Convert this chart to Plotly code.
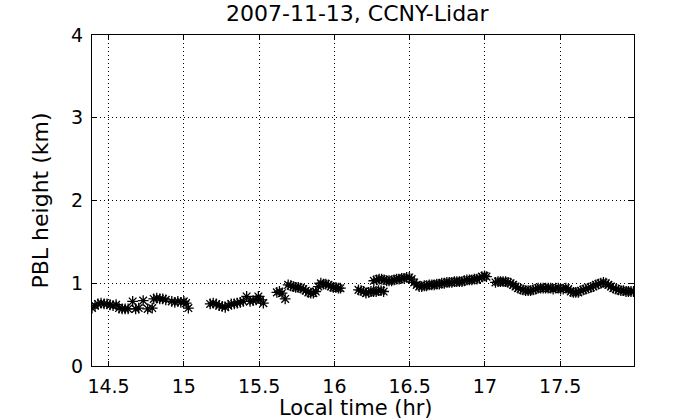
import plotly.graph_objects as go

# Local time (hr) and PBL height (km)
time_hr = [
    14.390, 14.410, 14.430, 14.450, 14.470, 14.490, 14.510, 14.530, 14.550, 14.570,
    14.590, 14.610, 14.630, 14.660, 14.680, 14.700, 14.730, 14.760, 14.790, 14.800,
    14.820, 14.840, 14.860, 14.880, 14.920, 14.940, 14.960, 14.980, 15.000, 15.015,
    15.030,
    15.175, 15.195, 15.215, 15.235, 15.255, 15.275, 15.295, 15.315, 15.335, 15.355,
    15.375, 15.395, 15.417, 15.440, 15.460, 15.480, 15.495, 15.510, 15.528,
    15.618, 15.635, 15.652, 15.673, 15.693, 15.710, 15.727, 15.743, 15.760, 15.777,
    15.793, 15.810, 15.827, 15.843, 15.860, 15.876, 15.893, 15.910, 15.927, 15.943,
    15.960, 15.977, 15.993, 16.010, 16.027, 16.040,
    16.160, 16.177, 16.193, 16.210, 16.227, 16.243, 16.260, 16.277, 16.293, 16.310,
    16.327,
    16.262, 16.280, 16.297, 16.313, 16.330, 16.347, 16.363, 16.380, 16.397, 16.413,
    16.430, 16.447, 16.463, 16.480, 16.497, 16.513, 16.530, 16.547, 16.563, 16.580,
    16.597, 16.613, 16.630, 16.647, 16.663, 16.680, 16.697, 16.713, 16.730, 16.747,
    16.763, 16.780, 16.797, 16.813, 16.830, 16.847, 16.863, 16.880, 16.897, 16.913,
    16.930, 16.947, 16.963, 16.980, 16.997, 17.010,
    17.070, 17.087, 17.103, 17.120, 17.137, 17.153, 17.170, 17.187, 17.203, 17.220,
    17.237, 17.253, 17.270, 17.287, 17.303, 17.320, 17.337, 17.353, 17.370, 17.387,
    17.403, 17.420, 17.437, 17.453, 17.470, 17.487, 17.503, 17.520, 17.537, 17.553,
    17.570, 17.587, 17.603, 17.620, 17.637, 17.653, 17.670, 17.687, 17.703, 17.720,
    17.737, 17.753, 17.770, 17.787, 17.803, 17.820, 17.837, 17.853, 17.870, 17.887,
    17.903, 17.920, 17.937, 17.953, 17.970, 17.987,
]

pbl_km = [
    0.70, 0.73, 0.75, 0.76, 0.75, 0.75, 0.74, 0.73, 0.74, 0.70,
    0.69, 0.69, 0.69, 0.78, 0.69, 0.70, 0.79, 0.69, 0.70, 0.81,
    0.82, 0.81, 0.81, 0.80, 0.78, 0.77, 0.78, 0.77, 0.78, 0.76,
    0.70,
    0.75, 0.76, 0.75, 0.73, 0.72, 0.71, 0.73, 0.75, 0.75, 0.76,
    0.77, 0.78, 0.84, 0.78, 0.79, 0.80, 0.84, 0.80, 0.76,
    0.89, 0.90, 0.88, 0.81, 0.98, 0.97, 0.96, 0.95, 0.95, 0.94,
    0.93, 0.91, 0.89, 0.88, 0.88, 0.90, 0.96, 1.00, 0.99, 0.99,
    0.98, 0.96, 0.95, 0.95, 0.94, 0.94,
    0.92, 0.91, 0.90, 0.88, 0.89, 0.90, 0.90, 0.90, 0.91, 0.91,
    0.90,
    1.03, 1.04, 1.05, 1.05, 1.04, 1.03, 1.03, 1.03, 1.04, 1.05,
    1.05, 1.06, 1.06, 1.07, 1.07, 1.05, 1.01, 0.98, 0.96, 0.96,
    0.97, 0.97, 0.98, 0.98, 0.98, 0.99, 0.99, 1.00, 1.00, 1.01,
    1.01, 1.01, 1.02, 1.02, 1.02, 1.02, 1.03, 1.04, 1.04, 1.04,
    1.05, 1.05, 1.06, 1.08, 1.09, 1.08,
    1.01, 1.02, 1.02, 1.02, 1.02, 1.01, 1.00, 0.98, 0.96, 0.94,
    0.93, 0.92, 0.91, 0.91, 0.91, 0.92, 0.93, 0.94, 0.94, 0.94,
    0.94, 0.94, 0.94, 0.93, 0.94, 0.94, 0.93, 0.93, 0.94, 0.93,
    0.90, 0.89, 0.89, 0.89, 0.91, 0.92, 0.93, 0.94, 0.95, 0.96,
    0.98, 0.99, 1.00, 1.01, 1.00, 0.98, 0.96, 0.94, 0.93, 0.92,
    0.91, 0.91, 0.90, 0.90, 0.90, 0.90,
]

x_ticks = [14.5, 15, 15.5, 16, 16.5, 17, 17.5]
x_tick_labels = ["14.5", "15", "15.5", "16", "16.5", "17", "17.5"]
y_ticks = [0, 1, 2, 3, 4]
y_tick_labels = ["0", "1", "2", "3", "4"]

FONT = "DejaVu Sans, Liberation Sans, Arial, sans-serif"

fig = go.Figure()
fig.add_trace(go.Scatter(
    x=time_hr, y=pbl_km, mode="markers",
    marker=dict(symbol="asterisk-open", size=9, color="black",
                line=dict(color="black", width=1.3)),
    showlegend=False,
))

axis_common = dict(
    showline=True, linecolor="black", linewidth=1, mirror="ticks",
    ticks="inside", ticklen=5, tickcolor="black", tickwidth=1,
    showgrid=True, gridcolor="black", griddash="1px,3px", gridwidth=1,
    zeroline=False, automargin=False,
    tickfont=dict(family=FONT, size=19, color="black"),
)

fig.update_layout(
    width=700, height=420,
    margin=dict(l=92, r=66, t=35, b=54, autoexpand=False),
    paper_bgcolor="white", plot_bgcolor="white",
    xaxis=dict(range=[14.39, 17.99], tickvals=x_ticks, ticktext=x_tick_labels,
               ticklabelstandoff=3, **axis_common),
    yaxis=dict(range=[0, 4], tickvals=y_ticks, ticktext=y_tick_labels,
               ticklabelstandoff=4, **axis_common),
    annotations=[
        dict(text="2007-11-13, CCNY-Lidar", xref="paper", yref="paper",
             x=0.49, y=1, yshift=22, xanchor="center", yanchor="middle",
             showarrow=False, font=dict(family=FONT, size=22, color="black")),
        dict(text="Local time (hr)", xref="paper", yref="paper",
             x=0.488, y=0, yshift=-42, xanchor="center", yanchor="middle",
             showarrow=False, font=dict(family=FONT, size=21, color="black")),
        dict(text="PBL height (km)", xref="paper", yref="paper",
             x=0, xshift=-52, y=0.5, xanchor="center", yanchor="middle",
             textangle=-90, showarrow=False,
             font=dict(family=FONT, size=22, color="black")),
    ],
)

fig.write_html(
    "out.html",
    config={"displayModeBar": False},
    post_script="document.body.style.margin='0px';document.body.style.overflow='hidden';",
)
